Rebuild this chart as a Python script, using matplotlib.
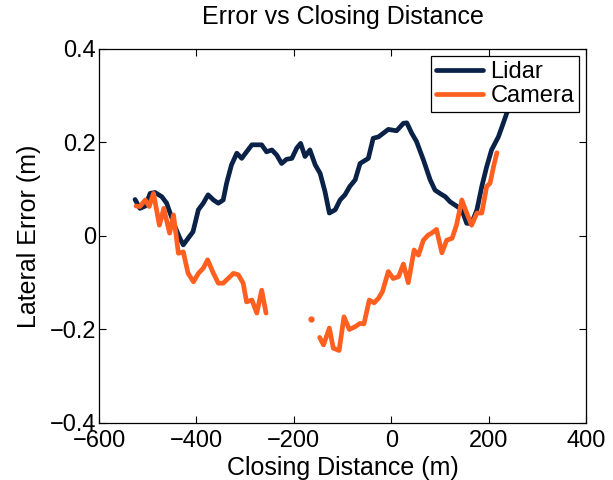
import matplotlib
matplotlib.use('Agg')
import matplotlib.pyplot as plt
import numpy as np

# Lidar lateral error vs closing distance
lidar_x = [-526, -516, -505, -495, -485, -471, -461, -454, -444, -434, -427, -417,
           -407, -396, -386, -376, -365, -355, -345, -338, -328, -317, -307, -297,
           -286, -276, -266, -256, -245, -235, -225, -215, -204, -194, -186, -177,
           -167, -156, -146, -136, -127, -115, -105, -95, -85, -74, -64, -47, -37,
           -26, -16, -6, 11, 25, 32, 42, 52, 66, 80, 90, 100, 111, 121, 134, 145,
           155, 165, 176, 186, 196, 206, 220, 230, 237, 245]
lidar_y = [0.078, 0.059, 0.064, 0.091, 0.093, 0.084, 0.070, 0.049, 0.020, -0.005,
           -0.019, -0.005, 0.009, 0.056, 0.070, 0.088, 0.077, 0.070, 0.077, 0.113,
           0.152, 0.177, 0.166, 0.180, 0.195, 0.195, 0.195, 0.180, 0.184, 0.173,
           0.155, 0.164, 0.166, 0.188, 0.198, 0.170, 0.184, 0.152, 0.134, 0.095,
           0.049, 0.056, 0.077, 0.088, 0.106, 0.120, 0.155, 0.166, 0.209, 0.212,
           0.220, 0.228, 0.225, 0.241, 0.242, 0.220, 0.202, 0.163, 0.120, 0.098,
           0.091, 0.084, 0.073, 0.064, 0.056, 0.027, 0.027, 0.056, 0.106, 0.148,
           0.184, 0.212, 0.241, 0.262, 0.285]

# Camera lateral error (nan = no detection)
camera_x = [-524, -516, -505, -497, -488, -476, -467, -455, -447, -437, -427, -417,
            -406, -396, -386, -377, -365, -355, -345, -335, -324, -314, -304, -297,
            -286, -276, -266, -257, -211, -165, -156, -147, -139, -127, -119, -107,
            -97, -86, -74, -64, -56, -45, -35, -26, -18, -6, 4, 15, 25, 35, 47, 56,
            66, 76, 83, 93, 104, 114, 125, 134, 145, 155, 165, 176, 186, 196, 203,
            210, 217]
camera_y = [0.064, 0.063, 0.077, 0.063, 0.091, 0.023, 0.059, 0.006, 0.045, -0.037,
            -0.034, -0.080, -0.098, -0.080, -0.069, -0.051, -0.080, -0.101, -0.101,
            -0.091, -0.080, -0.083, -0.101, -0.141, -0.137, -0.165, -0.116, -0.165,
            np.nan, -0.178, np.nan, -0.217, -0.233, -0.197, -0.240, -0.245, -0.173,
            -0.200, -0.194, -0.187, -0.188, -0.137, -0.143, -0.133, -0.119, -0.076,
            -0.091, -0.087, -0.060, -0.100, -0.030, -0.041, -0.009, 0.002, 0.006,
            0.014, -0.036, -0.009, -0.005, 0.023, 0.077, 0.049, 0.023, 0.049, 0.049,
            0.106, 0.113, 0.148, 0.178]

lidar_color = '#0b2248'
camera_color = '#ff5f1f'

plt.rcParams['font.family'] = ['Liberation Sans', 'DejaVu Sans']

fig = plt.figure(figsize=(6.13, 4.8), dpi=100)
ax = fig.add_axes([0.1615, 0.1188, 0.7945, 0.7792])

ax.plot(lidar_x, lidar_y, color=lidar_color, linewidth=3.4, label='Lidar',
        solid_capstyle='round', solid_joinstyle='round')
ax.plot(camera_x, camera_y, color=camera_color, linewidth=3.4, label='Camera',
        solid_capstyle='round', solid_joinstyle='round')

# single isolated samples don't show as a line, draw them as dots
cx = np.array(camera_x, dtype=float)
cy = np.array(camera_y, dtype=float)
prev_nan = np.concatenate([[True], np.isnan(cy[:-1])])
next_nan = np.concatenate([np.isnan(cy[1:]), [True]])
lonely = ~np.isnan(cy) & prev_nan & next_nan
ax.plot(cx[lonely], cy[lonely], 'o', color=camera_color, markersize=3.5)

ax.set_xlim(-600, 400)
ax.set_ylim(-0.4, 0.4)
ax.set_xticks([-600, -400, -200, 0, 200, 400])
ax.set_yticks([-0.4, -0.2, 0, 0.2, 0.4])
ax.set_yticklabels(['\u22120.4', '\u22120.2', '0', '0.2', '0.4'])
ax.tick_params(direction='in', top=True, right=True, length=5, width=0.8,
               labelsize=17, pad=2)
ax.tick_params(axis='x', pad=5)
for s in ax.spines.values():
    s.set_linewidth(0.9)

ax.set_title('Error vs Closing Distance', fontsize=18, pad=18)
ax.set_xlabel('Closing Distance (m)', fontsize=18, labelpad=3)
ax.set_ylabel('Lateral Error (m)', fontsize=18, labelpad=6)

leg = ax.legend(loc='upper right', fontsize=17, fancybox=False, framealpha=1,
                edgecolor='black', borderaxespad=0.3, handlelength=2.0,
                handletextpad=0.3, borderpad=0.2, labelspacing=0.1)
leg.get_frame().set_linewidth(0.9)

fig.savefig('out.png', dpi=100)
